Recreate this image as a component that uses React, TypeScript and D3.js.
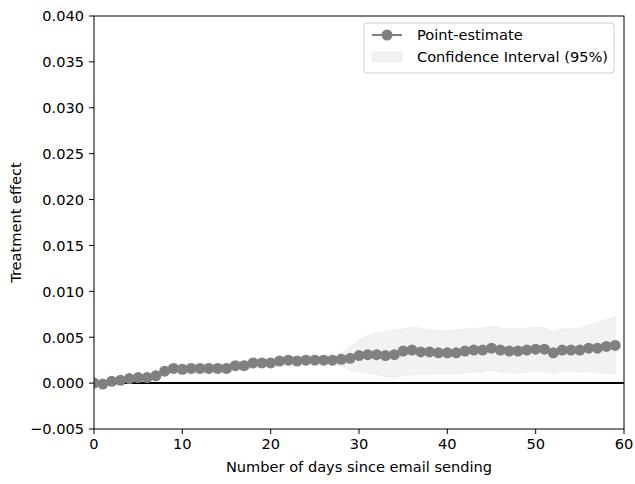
import React from "react";
import * as d3 from "d3";

const days = [0,1,2,3,4,5,6,7,8,9,10,11,12,13,14,15,16,17,18,19,20,21,22,23,24,25,26,27,28,29,30,31,32,33,34,35,36,37,38,39,40,41,42,43,44,45,46,47,48,49,50,51,52,53,54,55,56,57,58,59];
const pointEstimate = [0,-0.0001,0.0002,0.0003,0.0005,0.0006,0.0006,0.0008,0.0013,0.0016,0.0015,0.0016,0.0016,0.0016,0.0016,0.0016,0.0019,0.0019,0.0022,0.0022,0.0022,0.0024,0.0025,0.0024,0.0025,0.0025,0.0025,0.0025,0.0026,0.0027,0.0030,0.0031,0.0031,0.0030,0.0031,0.0035,0.0036,0.0034,0.0034,0.0033,0.0033,0.0033,0.0035,0.0036,0.0036,0.0038,0.0036,0.0035,0.0035,0.0036,0.0037,0.0037,0.0033,0.0036,0.0036,0.0036,0.0038,0.0038,0.0040,0.0041];
const ciUpper = [0.0002,0.0001,0.0004,0.0005,0.0007,0.0008,0.0008,0.0010,0.0018,0.0022,0.0021,0.0021,0.0021,0.0021,0.0021,0.0021,0.0024,0.0024,0.0027,0.0027,0.0027,0.0029,0.0030,0.0029,0.0030,0.0030,0.0030,0.0030,0.0033,0.0040,0.0047,0.0052,0.0055,0.0056,0.0058,0.0059,0.0061,0.0060,0.0058,0.0057,0.0057,0.0058,0.0059,0.0060,0.0060,0.0062,0.0060,0.0059,0.0059,0.0060,0.0061,0.0060,0.0056,0.0059,0.0059,0.0060,0.0063,0.0066,0.0069,0.0072];
const ciLower = [-0.0002,-0.0003,0.0000,0.0001,0.0003,0.0004,0.0004,0.0006,0.0009,0.0011,0.0010,0.0011,0.0011,0.0011,0.0011,0.0011,0.0014,0.0014,0.0017,0.0017,0.0017,0.0019,0.0020,0.0019,0.0020,0.0020,0.0020,0.0020,0.0019,0.0014,0.0013,0.0011,0.0009,0.0007,0.0006,0.0008,0.0009,0.0009,0.0010,0.0010,0.0010,0.0010,0.0011,0.0012,0.0012,0.0014,0.0012,0.0011,0.0011,0.0012,0.0013,0.0013,0.0010,0.0013,0.0013,0.0012,0.0013,0.0011,0.0011,0.0010];
const xTicks = [0,10,20,30,40,50,60];
const yTicks = [-0.005,0,0.005,0.01,0.015,0.02,0.025,0.03,0.035,0.04];

const W = 635, H = 484;
const L = 94, R = 624, T = 16, B = 429;
const FONT = "DejaVu Sans";
const FS = 14.6;

export default function App() {
  const x = d3.scaleLinear().domain([0, 60]).range([L, R]);
  const y = d3.scaleLinear().domain([-0.005, 0.04]).range([B, T]);
  const area = d3.area<number>()
    .x((_, i) => x(days[i]))
    .y0((_, i) => y(ciLower[i]))
    .y1((_, i) => y(ciUpper[i]));
  const line = d3.line<number>().x((_, i) => x(days[i])).y((d) => y(d));
  const fmt = (v: number) => {
    const s = v.toFixed(3);
    return v < 0 ? "\u2212" + s.slice(1) : s;
  };
  return (
    <svg width={W} height={H} style={{ position: "absolute", left: 0, top: 0, background: "#fff" }} fontFamily={FONT}>
      <defs>
        <clipPath id="plot"><rect x={L} y={T} width={R - L} height={B - T} /></clipPath>
      </defs>
      <g clipPath="url(#plot)">
        <path d={area(pointEstimate) || ""} fill="#d3d3d3" fillOpacity={0.3} stroke="#d3d3d3" strokeOpacity={0.3} strokeWidth={1} />
        <line x1={L} x2={R} y1={y(0)} y2={y(0)} stroke="#000" strokeWidth={2} />
        <path d={line(pointEstimate) || ""} fill="none" stroke="#808080" strokeWidth={2} />
        {pointEstimate.map((v, i) => (
          <circle key={i} cx={x(days[i])} cy={y(v)} r={5.5} fill="#808080" />
        ))}
      </g>
      <rect x={L} y={T} width={R - L} height={B - T} fill="none" stroke="#000" strokeWidth={1} />
      {xTicks.map((t) => (
        <g key={t}>
          <line x1={x(t)} x2={x(t)} y1={B} y2={B + 5} stroke="#000" strokeWidth={1} />
          <text x={x(t)} y={B + 20} textAnchor="middle" fontSize={FS} fill="#000">{t}</text>
        </g>
      ))}
      {yTicks.map((t) => (
        <g key={t}>
          <line x1={L - 5} x2={L} y1={y(t)} y2={y(t)} stroke="#000" strokeWidth={1} />
          <text x={L - 10} y={y(t) + 5.3} textAnchor="end" fontSize={FS} fill="#000">{fmt(t)}</text>
        </g>
      ))}
      <text x={(L + R) / 2} y={472} textAnchor="middle" fontSize={FS} fill="#000">Number of days since email sending</text>
      <text transform={`translate(21,${(T + B) / 2}) rotate(-90)`} textAnchor="middle" fontSize={FS} fill="#000">Treatment effect</text>
      <g>
        <rect x={364} y={23} width={250} height={50} rx={3} fill="#fff" fillOpacity={0.8} stroke="#ccc" strokeWidth={1} />
        <line x1={372} x2={402} y1={35} y2={35} stroke="#808080" strokeWidth={2} />
        <circle cx={387} cy={35} r={5.5} fill="#808080" />
        <text x={417} y={40} fontSize={FS} fill="#000">Point-estimate</text>
        <rect x={372} y={52} width={30} height={10} fill="#d3d3d3" fillOpacity={0.3} stroke="#d3d3d3" strokeOpacity={0.3} />
        <text x={417} y={62} fontSize={FS} fill="#000">Confidence Interval (95%)</text>
      </g>
    </svg>
  );
}
